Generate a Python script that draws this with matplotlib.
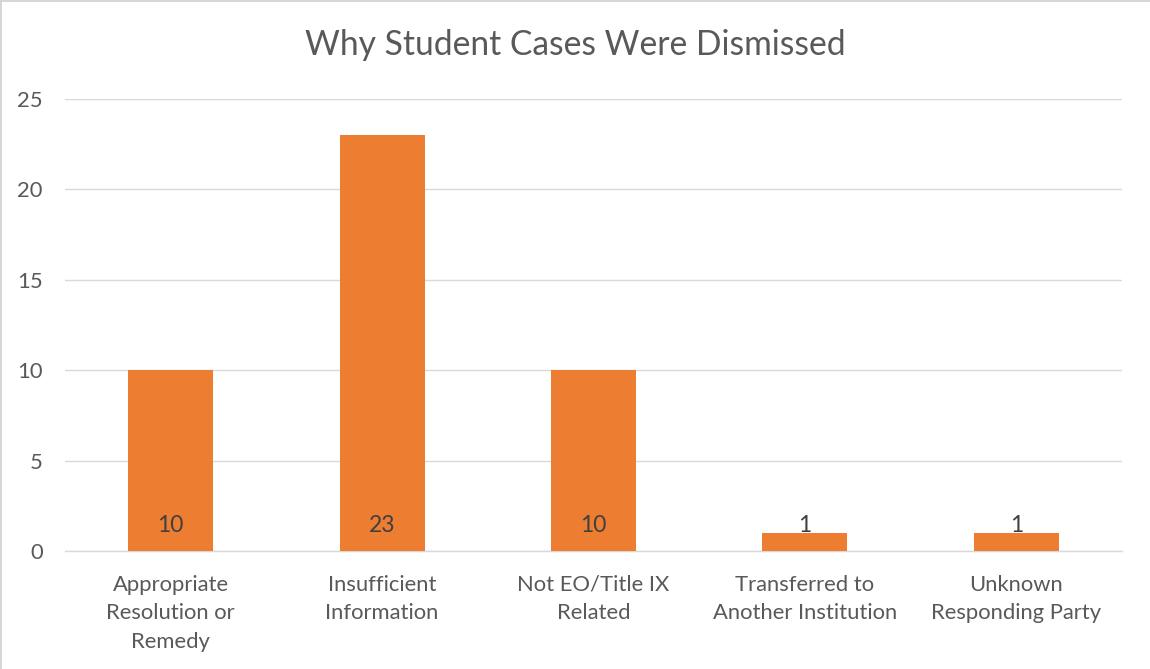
import numpy as np
import matplotlib.pyplot as plt
from matplotlib.lines import Line2D


# ============================================================
# DATA
# ============================================================

categories = [
    "Appropriate\nResolution or\nRemedy",
    "Insufficient\nInformation",
    "Not EO/Title IX\nRelated",
    "Transferred to\nAnother Institution",
    "Unknown\nResponding Party",
]
counts = [10, 23, 10, 1, 1]
y_ticks = [0, 5, 10, 15, 20, 25]

TITLE = "Why Student Cases Were Dismissed"
BAR_COLOR = "#ED7D31"
TEXT_COLOR = "#595959"
GRID_COLOR = "#D9D9D9"

plt.rcParams["font.family"] = ["Lato", "DejaVu Sans"]


# ============================================================
# PLOT
# ============================================================

fig = plt.figure(figsize=(11.5, 6.69), dpi=100)
ax = fig.add_axes([0.0565, 0.1764, 0.9192, 0.6757])

x = np.arange(len(categories))
bars = ax.bar(x, counts, width=0.402, color=BAR_COLOR, zorder=3)

# labels sit at the inside base of each bar (Excel style)
for xi, val in zip(x, counts):
    ax.annotate(
        str(val), xy=(xi, 0), xytext=(0, 18.2), textcoords="offset points",
        ha="center", va="center", fontsize=16.5, color="#404040", zorder=4,
    )

ax.set_xlim(-0.5, len(categories) - 0.5)
ax.set_ylim(0, 25)
ax.set_yticks(y_ticks)
ax.set_xticks(x)
ax.set_xticklabels(categories, linespacing=1.53)

ax.tick_params(axis="y", length=0, pad=16, labelsize=15.8, labelcolor=TEXT_COLOR)
ax.tick_params(axis="x", length=0, pad=17, labelsize=15.8, labelcolor=TEXT_COLOR)

ax.grid(axis="y", color=GRID_COLOR, linewidth=1.0, zorder=0)
ax.set_axisbelow(True)
for side in ["top", "right", "left"]:
    ax.spines[side].set_visible(False)
ax.spines["bottom"].set_color(GRID_COLOR)
ax.spines["bottom"].set_linewidth(1.0)

fig.text(0.5, 1 - 45 / 669, TITLE, ha="center", va="center",
         fontsize=24.2, color=TEXT_COLOR)

# light frame on left and top edges
fig.add_artist(Line2D([0.001, 0.001], [0, 0.999], transform=fig.transFigure,
                      color="#D0D0D0", linewidth=1.2))
fig.add_artist(Line2D([0, 1], [0.998, 0.998], transform=fig.transFigure,
                      color="#D0D0D0", linewidth=1.2))

fig.savefig("out.png", dpi=100)
